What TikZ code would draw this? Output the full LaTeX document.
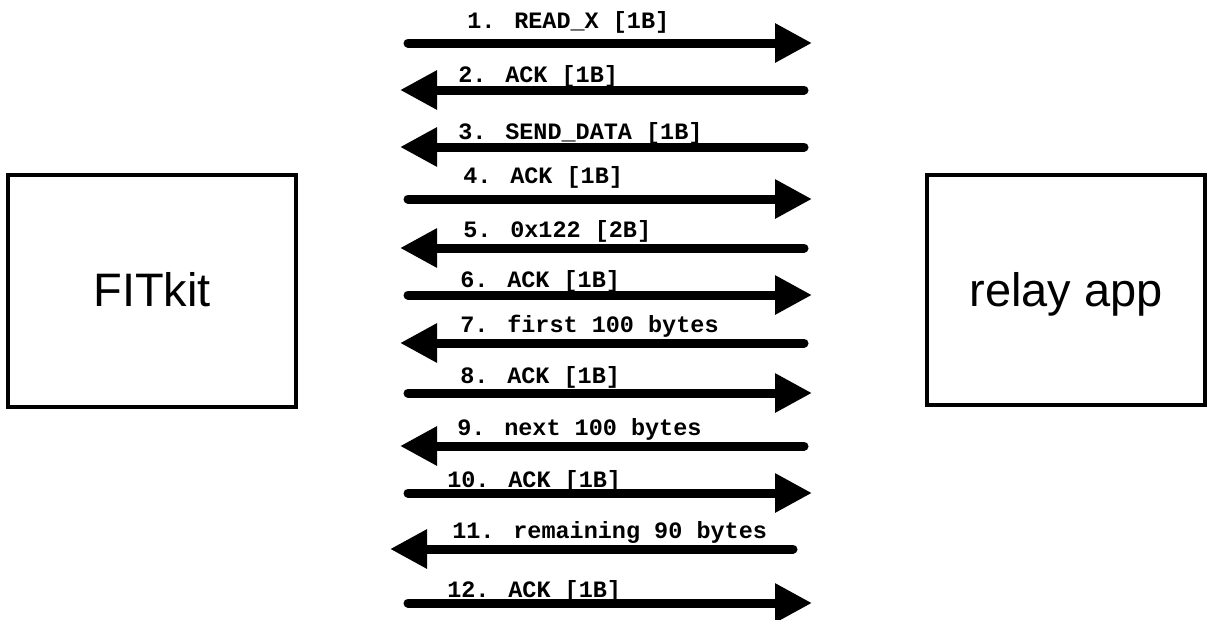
\documentclass[tikz,border=0pt]{standalone}
\usepackage{fontspec}
\setmainfont{Liberation Sans}
\newfontfamily\msgfont{Liberation Mono}
\usetikzlibrary{arrows.meta}
\tikzset{
  party/.style={draw,line width=2.2pt},
  partyname/.style={font=\fontsize{33.4}{38}\selectfont,inner sep=0pt,anchor=base},
  msg/.style={line width=0.225cm,line cap=round,-{Triangle[length=0.925cm,width=0.925cm]}},
  msglabel/.style={font=\msgfont\bfseries\fontsize{16.7}{20}\selectfont,inner sep=0pt,anchor=base west}
}
\begin{document}
\begin{tikzpicture}[x=0.025cm,y=-0.025cm]
\useasboundingbox (0,0) rectangle (1208,619);
% the two sides
\draw[party] (8,175) rectangle (296,407);
\node[partyname] (fitkit) at (152,306) {FITkit};
\draw[party] (927,175) rectangle (1205,405);
\node[partyname] (relay) at (1066,306) {relay app};
% messages
\coordinate (m1a) at (408,43);
\coordinate (m1b) at (812,43);
\draw[msg] (m1a) -- (m1b);
\node[msglabel] (t1) at (467,28) {1. READ\_X [1B]};
\coordinate (m2a) at (804,90);
\coordinate (m2b) at (400,90);
\draw[msg] (m2a) -- (m2b);
\node[msglabel] (t2) at (458,82) {2. ACK [1B]};
\coordinate (m3a) at (804,147);
\coordinate (m3b) at (400,147);
\draw[msg] (m3a) -- (m3b);
\node[msglabel] (t3) at (458,139) {3. SEND\_DATA [1B]};
\coordinate (m4a) at (408,199);
\coordinate (m4b) at (812,199);
\draw[msg] (m4a) -- (m4b);
\node[msglabel] (t4) at (463,183) {4. ACK [1B]};
\coordinate (m5a) at (804,248);
\coordinate (m5b) at (400,248);
\draw[msg] (m5a) -- (m5b);
\node[msglabel] (t5) at (463,237) {5. 0x122 [2B]};
\coordinate (m6a) at (408,295);
\coordinate (m6b) at (812,295);
\draw[msg] (m6a) -- (m6b);
\node[msglabel] (t6) at (460,287) {6. ACK [1B]};
\coordinate (m7a) at (804,343);
\coordinate (m7b) at (400,343);
\draw[msg] (m7a) -- (m7b);
\node[msglabel] (t7) at (460,332) {7. first 100 bytes};
\coordinate (m8a) at (408,393);
\coordinate (m8b) at (812,393);
\draw[msg] (m8a) -- (m8b);
\node[msglabel] (t8) at (460,383) {8. ACK [1B]};
\coordinate (m9a) at (804,446);
\coordinate (m9b) at (400,446);
\draw[msg] (m9a) -- (m9b);
\node[msglabel] (t9) at (457,435) {9. next 100 bytes};
\coordinate (m10a) at (408,493);
\coordinate (m10b) at (812,493);
\draw[msg] (m10a) -- (m10b);
\node[msglabel] (t10) at (447,487) {10. ACK [1B]};
\coordinate (m11a) at (793,549);
\coordinate (m11b) at (390,549);
\draw[msg] (m11a) -- (m11b);
\node[msglabel] (t11) at (452,538) {11. remaining 90 bytes};
\coordinate (m12a) at (408,603);
\coordinate (m12b) at (812,603);
\draw[msg] (m12a) -- (m12b);
\node[msglabel] (t12) at (447,597) {12. ACK [1B]};
\end{tikzpicture}
\end{document}
